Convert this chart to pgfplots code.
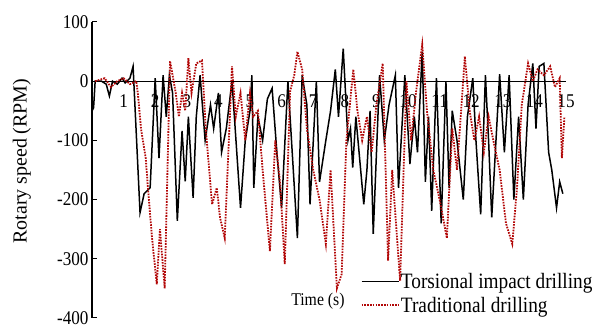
\documentclass[border=0pt]{standalone}
\usepackage{fontspec}
\setmainfont{Liberation Serif}[FakeStretch=0.88]
\newfontfamily\ylfont{Liberation Serif}
\usepackage{pgfplots}
\pgfplotsset{compat=1.18}
\definecolor{tradred}{RGB}{178,8,8}
\begin{document}
\begin{tikzpicture}
\begin{axis}[
  set layers=standard,
  scale only axis, width=474bp, height=296bp,
  xmin=0, xmax=15, ymin=-400, ymax=100,
  axis x line=middle, axis y line=left,
  axis line style={-, line width=1.3bp},
  hide obscured x ticks=false, hide obscured y ticks=false,
  xtick={1,2,3,4,5,6,7,8,9,10,11,12,13,14,15},
  xticklabels={1,2,3,4,5,6,7,8,9,10,11,12,13,14,15},
  ytick={-400,-300,-200,-100,0,100},
  yticklabels={-400,-300,-200,-100,0,100},
  xtick style={draw=none},
  ytick style={line width=1bp, black},
  tick align=inside, major tick length=5bp,
  ticklabel style={font=\fontsize{19.5}{20}\selectfont},
  xticklabel style={yshift=-10bp},
  xlabel={Time (s)},
  xlabel style={at={(axis cs:7.15,-371)}, anchor=center, font=\fontsize{18}{20}\selectfont},
  ylabel={\ylfont Rotary speed (RPM)},
  ylabel style={at={(rel axis cs:-0.148,0.53)}, anchor=center, font=\fontsize{20}{22}\selectfont},
  legend style={draw=none, fill=none, at={(axis cs:8.4,-318)}, anchor=north west,
    font=\fontsize{22}{23}\selectfont, row sep=4bp, nodes={inner sep=1.5bp}},
  legend cell align=left,
  legend image code/.code={\draw[#1] (0bp,0bp) -- (37bp,0bp);},
  /tikz/every even column/.append style={column sep=3bp},
]
\coordinate (O) at (rel axis cs:0,0);
\coordinate (T) at (rel axis cs:1,1);
\addplot[black, line width=1.5bp] coordinates {
(0,-50) (0.05,-45) (0.1,0) (0.3,0) (0.45,-5) (0.55,-25) (0.65,0) (0.8,-5) (0.95,5) (1.05,-3) (1.2,5) (1.3,25)
(1.52,-222) (1.65,-190) (1.84,-180) (2.0,5) (2.12,-130) (2.25,10) (2.35,-60) (2.45,10) (2.55,-20) (2.7,-236)
(2.85,-84) (2.95,-169) (3.05,-60) (3.2,-197) (3.3,-60) (3.42,10) (3.58,-100) (3.75,-40) (3.85,-80) (4.0,-20)
(4.1,-120) (4.25,-80) (4.43,0) (4.7,-214) (4.85,-100) (5.0,-50) (5.06,10) (5.12,-180) (5.25,-60) (5.4,-100)
(5.55,-30) (5.7,-12) (5.85,-120) (6.0,-214) (6.2,0) (6.5,-265) (6.65,10) (6.8,-40) (6.9,-208) (7.1,0)
(7.2,-170) (7.4,-100) (7.55,-50) (7.7,20) (7.8,-60) (7.95,55) (8.1,-100) (8.18,-80) (8.25,-146) (8.35,-60)
(8.6,-208) (8.7,-150) (8.8,-50) (8.9,-258) (9.1,10) (9.25,-100) (9.4,-40) (9.6,10) (9.7,-180) (9.9,10)
(10.06,-140) (10.2,-60) (10.3,-120) (10.45,50) (10.55,-170) (10.65,-60) (10.75,-219) (10.9,5) (11.05,-240)
(11.2,0) (11.3,-180) (11.4,-50) (11.55,-100) (11.75,-200) (11.88,-60) (12.05,5) (12.15,-100) (12.3,-225)
(12.45,10) (12.55,-100) (12.65,-230) (12.9,12) (13.05,-120) (13.2,10) (13.35,-200) (13.5,-60) (13.65,-200)
(13.8,-40) (13.95,30) (14.05,-80) (14.15,25) (14.3,30) (14.45,-120) (14.55,-150) (14.7,-214) (14.8,-170) (14.9,-190)
};
\addlegendentry{Torsional impact drilling}
\addplot[tradred, line width=1.8bp, dash pattern=on 1.6bp off 1.2bp] coordinates {
(0.1,0) (0.4,5) (0.6,-10) (0.8,0) (1.0,5) (1.2,-5) (1.4,0) (1.45,-20) (1.55,-80) (1.7,-130) (1.77,-180)
(1.9,-265) (2.05,-343) (2.15,-250) (2.3,-350) (2.47,34) (2.55,10) (2.65,-20) (2.75,-60) (2.85,-20) (2.95,-50)
(3.05,39) (3.15,-20) (3.3,30) (3.48,35) (3.6,-80) (3.8,-208) (3.95,-180) (4.05,-230) (4.2,-265) (4.43,25)
(4.55,-60) (4.7,-20) (4.85,-100) (5.0,-20) (5.1,-60) (5.25,-50) (5.4,-150) (5.63,-287) (5.8,-100) (5.95,-170)
(6.1,-309) (6.27,-17) (6.4,10) (6.5,50) (6.65,20) (6.8,-80) (7.0,-150) (7.2,-200) (7.4,-275) (7.55,-150)
(7.75,-350) (7.9,-326) (8.05,-100) (8.27,20) (8.4,-50) (8.55,-100) (8.7,-60) (8.85,-120) (9.0,-40) (9.2,30)
(9.37,-303) (9.5,-150) (9.75,-337) (9.95,0) (10.1,-100) (10.25,-20) (10.45,62) (10.6,-50) (10.8,-150)
(11.0,-200) (11.23,-265) (11.4,-80) (11.55,-150) (11.8,42) (11.95,-50) (12.1,-100) (12.25,-60) (12.4,-120)
(12.55,-60) (12.7,-100) (12.9,-150) (13.1,-240) (13.3,-275) (13.45,-180) (13.6,-40) (13.8,30) (13.95,0)
(14.1,20) (14.3,10) (14.5,25) (14.65,-10) (14.8,5) (14.87,-130) (14.95,-60)
};
\addlegendentry{Traditional drilling}
\end{axis}
\pgfresetboundingbox
\path[use as bounding box] ([shift={(-92bp,-13bp)}]O) rectangle ([shift={(36bp,22bp)}]T);
\end{tikzpicture}
\end{document}
